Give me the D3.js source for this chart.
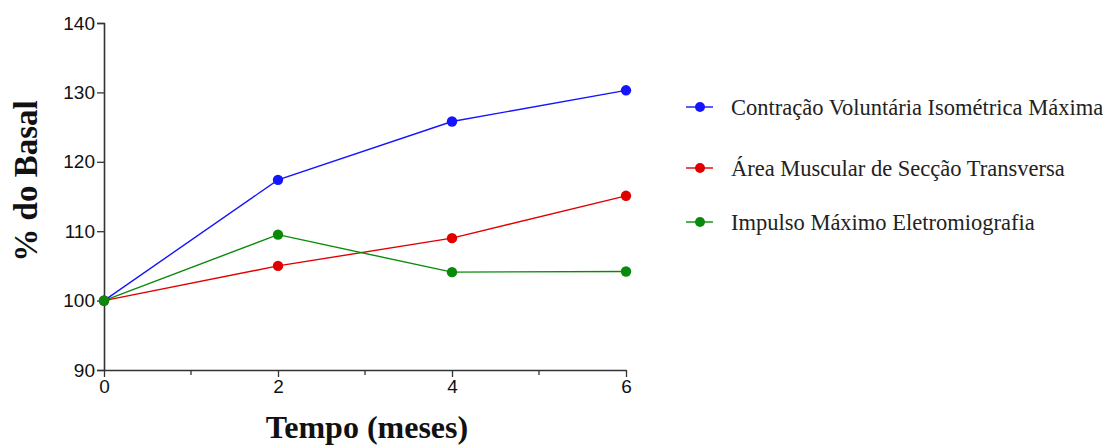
<!DOCTYPE html>
<html><head><meta charset="utf-8">
<script src="https://cdn.jsdelivr.net/npm/d3@7"></script>
<style>body{margin:0;background:#fff}</style>
</head><body>
<svg id="c" width="1109" height="447"></svg>
<script>
const months = [0, 2, 4, 6];
const seriesNames = ["Contração Voluntária Isométrica Máxima", "Área Muscular de Secção Transversa", "Impulso Máximo Eletromiografia"];
const cvim = [100, 117.4, 125.8, 130.3];
const amst = [100, 105.0, 109.0, 115.1];
const imemg = [100, 109.5, 104.1, 104.2];
const yTicks = [90, 100, 110, 120, 130, 140];
const xMajor = [0, 2, 4, 6];
const xMinor = [1, 3, 5];
const colors = ["#1414ff", "#e00000", "#0a8a0a"];

const svg = d3.select("#c");
const x = d3.scaleLinear().domain([0, 6]).range([104, 626]);
const y = d3.scaleLinear().domain([90, 140]).range([370, 23]);
const axisColor = "#333";
const sans = "'Liberation Sans', Arial, sans-serif";
const serif = "'Liberation Serif', 'Times New Roman', serif";

const gy = svg.append("g").attr("transform", "translate(104,0)")
  .call(d3.axisLeft(y).tickValues(yTicks).tickFormat(d3.format("d")).tickSize(7).tickPadding(2));
gy.attr("font-size", null);
gy.selectAll("text").style("font-family", sans).style("font-size", "19px").attr("fill", "#111");
gy.select(".domain").attr("stroke", axisColor).attr("stroke-width", 1.6);
gy.selectAll(".tick line").attr("stroke", axisColor).attr("stroke-width", 1.3);

const gx = svg.append("g").attr("transform", "translate(0,370)")
  .call(d3.axisBottom(x).tickValues(xMajor).tickFormat(d3.format("d")).tickSize(7).tickPadding(3).tickSizeOuter(0));
gx.attr("font-size", null);
gx.selectAll("text").style("font-family", sans).style("font-size", "19px").attr("fill", "#111");
gx.select(".domain").attr("stroke", axisColor).attr("stroke-width", 1.6);
gx.selectAll(".tick line").attr("stroke", axisColor).attr("stroke-width", 1.3);
svg.append("g").selectAll("line").data(xMinor).join("line")
  .attr("x1", d => x(d)).attr("x2", d => x(d)).attr("y1", 370).attr("y2", 375)
  .attr("stroke", axisColor).attr("stroke-width", 1.3);

const allSeries = [cvim, amst, imemg];
const line = d3.line().x((d, i) => x(months[i])).y(d => y(d));
allSeries.forEach((s, k) => {
  svg.append("path").datum(s).attr("d", line).attr("fill", "none")
    .attr("stroke", colors[k]).attr("stroke-width", 1.4);
});
allSeries.forEach((s, k) => {
  svg.append("g").selectAll("circle").data(s).join("circle")
    .attr("cx", (d, i) => x(months[i])).attr("cy", d => y(d)).attr("r", 5.2)
    .attr("fill", colors[k]);
});

// axis titles
svg.append("text").attr("x", 367).attr("y", 438).attr("text-anchor", "middle")
  .style("font-family", serif).style("font-weight", "bold")
  .style("font-size", "32px").attr("fill", "#111").text("Tempo (meses)");
svg.append("text").attr("transform", "translate(37,181) rotate(-90)").attr("text-anchor", "middle")
  .style("font-family", serif).style("font-weight", "bold")
  .style("font-size", "33px").attr("fill", "#111").text("% do Basal");

// legend
const legY = [107, 168, 222];
const leg = svg.append("g");
seriesNames.forEach((name, k) => {
  const g = leg.append("g").attr("transform", `translate(0,${legY[k]})`);
  g.append("line").attr("x1", 686).attr("x2", 713).attr("y1", 0).attr("y2", 0)
    .attr("stroke", colors[k]).attr("stroke-width", 1.4);
  g.append("circle").attr("cx", 700).attr("cy", 0).attr("r", 5).attr("fill", colors[k]);
  g.append("text").attr("x", 731).attr("y", 7.5).style("font-family", serif)
    .style("font-size", "22.5px").attr("fill", "#222").text(name);
});
</script>
</body></html>
